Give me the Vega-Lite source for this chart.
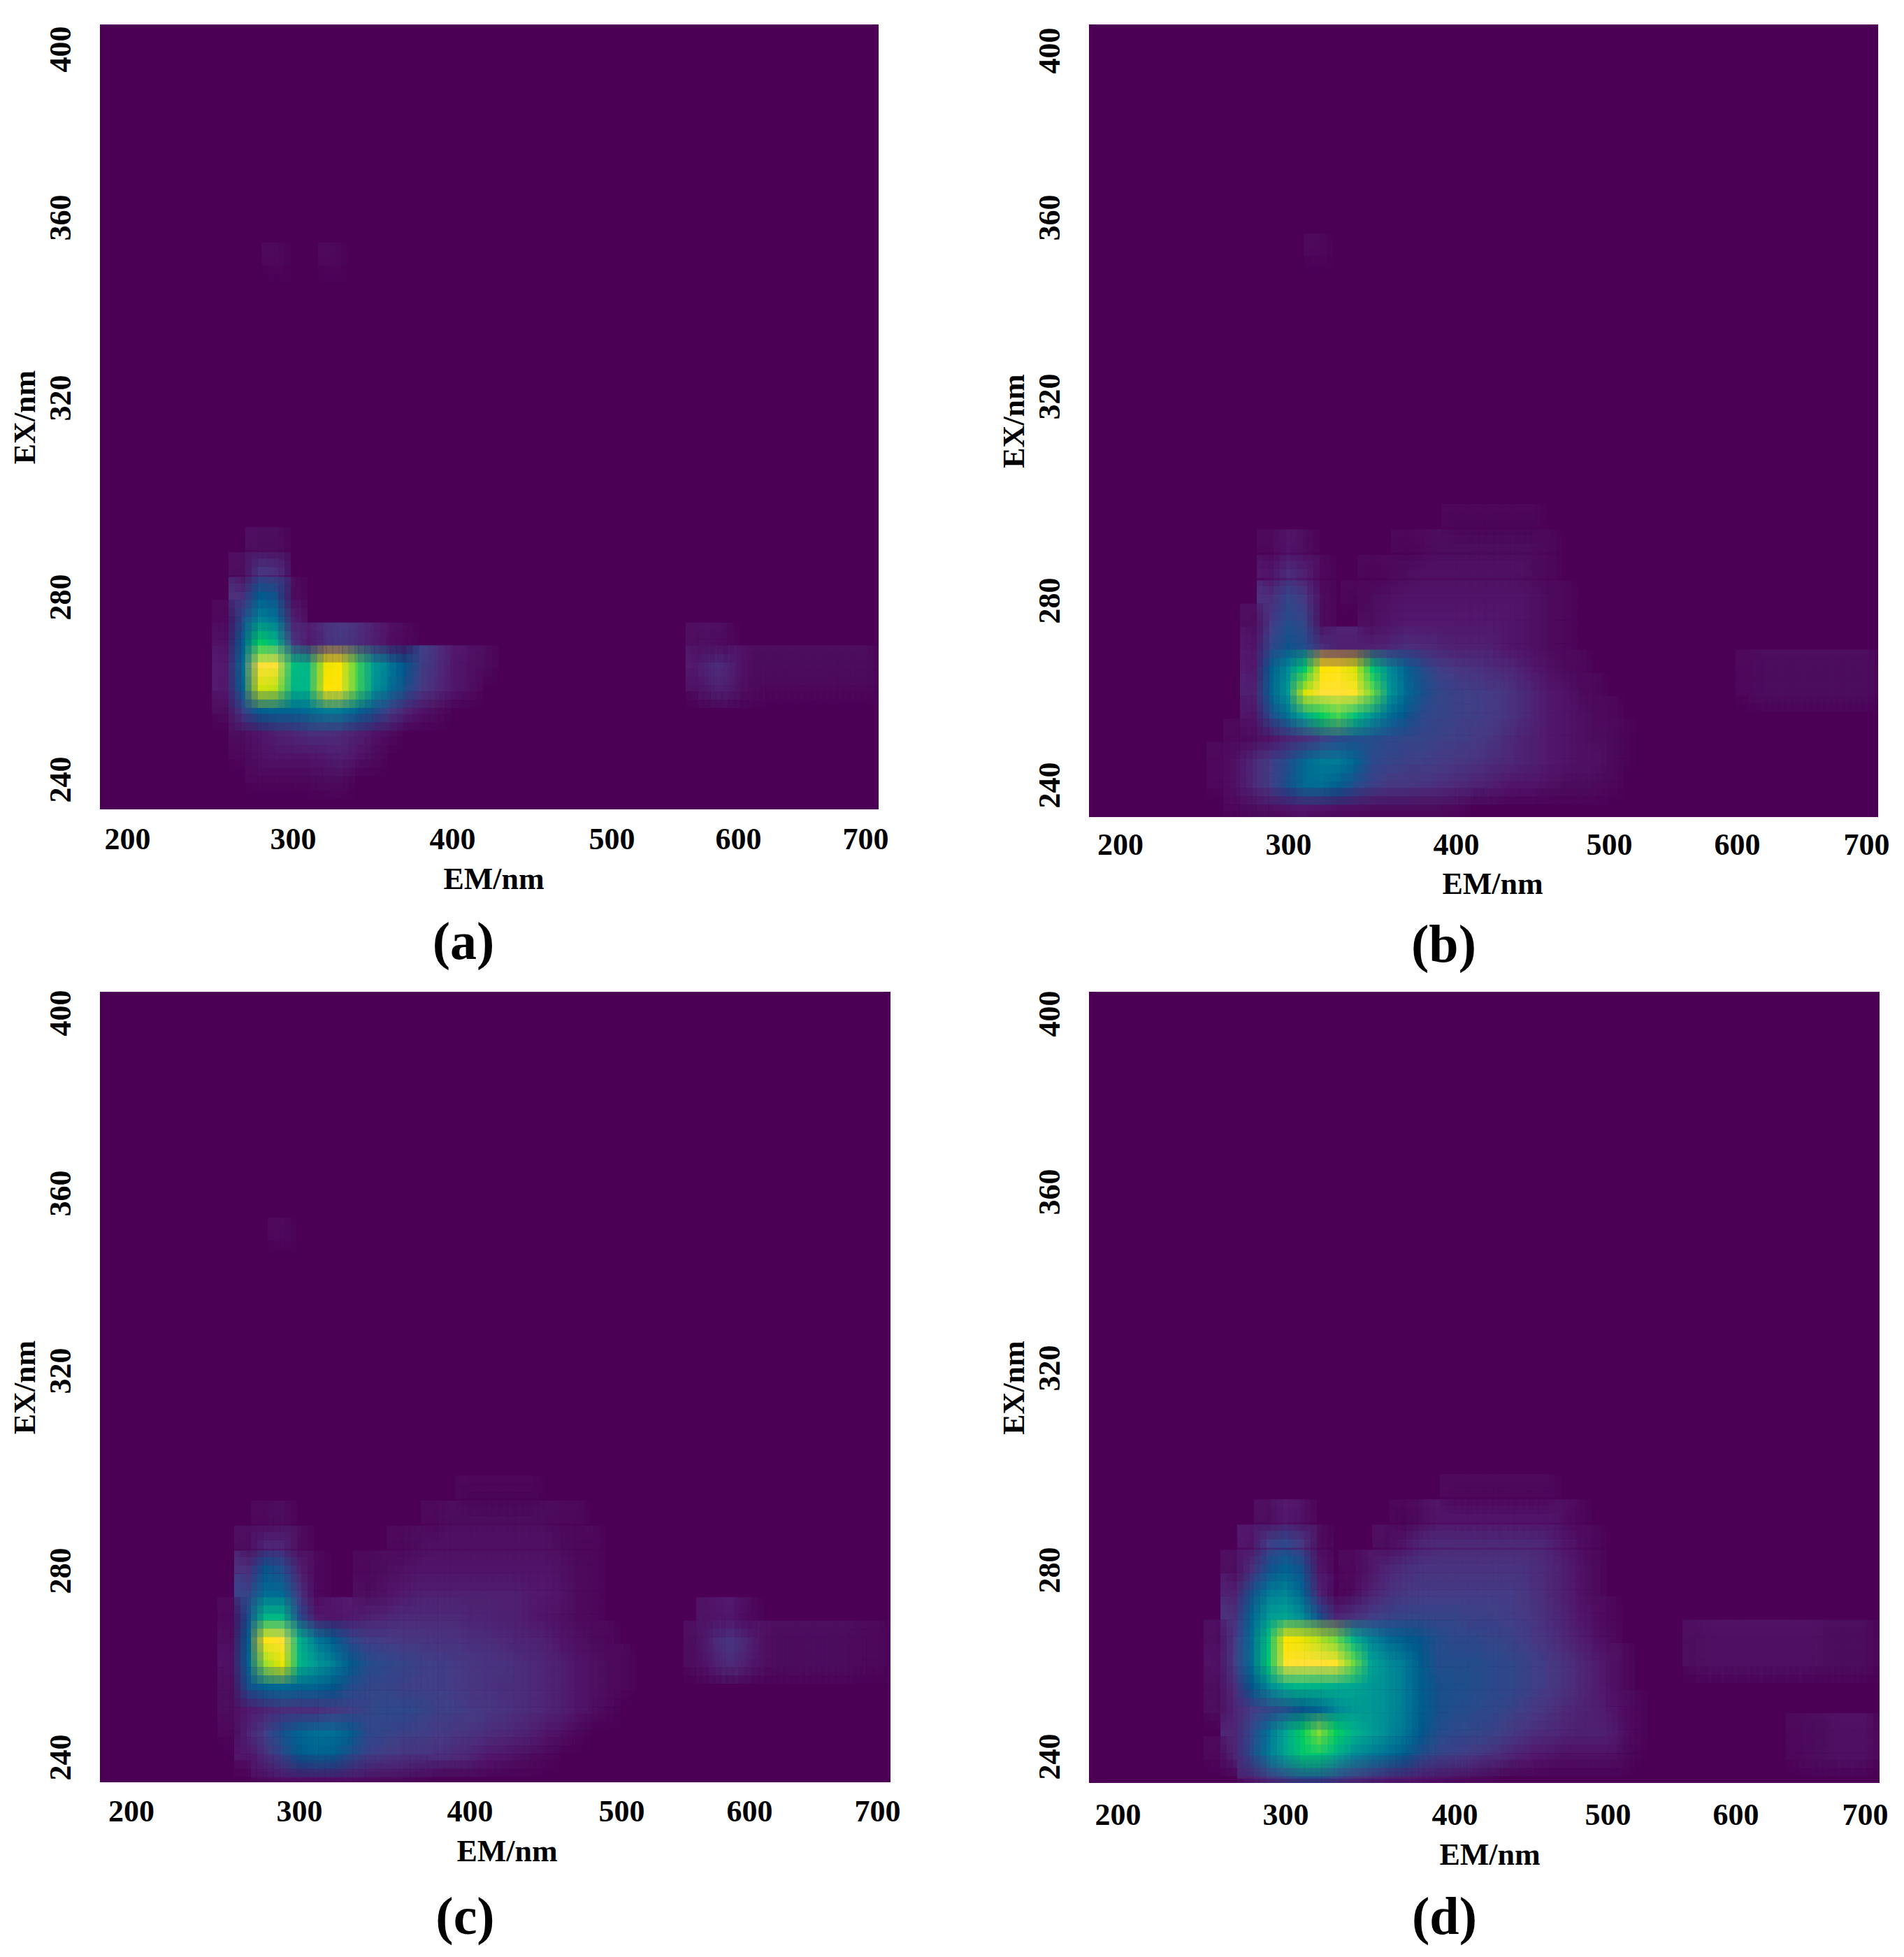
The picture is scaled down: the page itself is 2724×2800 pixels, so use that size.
{"$schema":"https://vega.github.io/schema/vega-lite/v6.json","background":"white","bounds":"flush","align":"each","columns":2,"spacing":{"row":250,"column":284},"padding":{"left":14,"top":35,"right":30,"bottom":30},"config":{"view":{"stroke":null},"axis":{"grid":false,"ticks":false,"domain":false,"labelFont":"Liberation Serif","labelFontWeight":"bold","labelFontSize":44,"labelColor":"black","titleFont":"Liberation Serif","titleFontWeight":"bold","titleFontSize":44,"titleColor":"black"},"title":{"font":"Liberation Serif","fontWeight":"bold","fontSize":76,"color":"black","orient":"bottom","anchor":"middle"}},
"datasets":{
"a":[{"em":290,"ex":350,"v":0.02},{"em":325,"ex":350,"v":0.02},
{"em":280,"ex":290,"v":0.03},{"em":290,"ex":290,"v":0.03},
{"em":270,"ex":285,"v":0.03},{"em":280,"ex":285,"v":0.12},{"em":290,"ex":285,"v":0.1},
{"em":270,"ex":280,"v":0.1},{"em":280,"ex":280,"v":0.27},{"em":290,"ex":280,"v":0.22},{"em":300,"ex":280,"v":0.03},
{"em":260,"ex":275,"v":0.02},{"em":270,"ex":275,"v":0.2},{"em":280,"ex":275,"v":0.42},{"em":290,"ex":275,"v":0.35},{"em":300,"ex":275,"v":0.07},
{"em":260,"ex":270,"v":0.04},{"em":270,"ex":270,"v":0.28},{"em":280,"ex":270,"v":0.72},{"em":290,"ex":270,"v":0.6},{"em":300,"ex":270,"v":0.12},{"em":310,"ex":270,"v":0.06},{"em":320,"ex":270,"v":0.1},{"em":330,"ex":270,"v":0.12},{"em":340,"ex":270,"v":0.1},{"em":350,"ex":270,"v":0.07},{"em":360,"ex":270,"v":0.04},{"em":370,"ex":270,"v":0.02},
{"em":260,"ex":265,"v":0.06},{"em":270,"ex":265,"v":0.33},{"em":280,"ex":265,"v":1},{"em":290,"ex":265,"v":1},{"em":300,"ex":265,"v":0.65},{"em":310,"ex":265,"v":0.6},{"em":320,"ex":265,"v":0.9},{"em":330,"ex":265,"v":0.92},{"em":340,"ex":265,"v":0.75},{"em":350,"ex":265,"v":0.52},{"em":360,"ex":265,"v":0.38},{"em":370,"ex":265,"v":0.25},{"em":380,"ex":265,"v":0.15},{"em":390,"ex":265,"v":0.1},{"em":400,"ex":265,"v":0.06},{"em":410,"ex":265,"v":0.04},{"em":420,"ex":265,"v":0.03},
{"em":260,"ex":260,"v":0.06},{"em":270,"ex":260,"v":0.3},{"em":280,"ex":260,"v":0.88},{"em":290,"ex":260,"v":0.85},{"em":300,"ex":260,"v":0.6},{"em":310,"ex":260,"v":0.62},{"em":320,"ex":260,"v":0.92},{"em":330,"ex":260,"v":0.95},{"em":340,"ex":260,"v":0.75},{"em":350,"ex":260,"v":0.5},{"em":360,"ex":260,"v":0.35},{"em":370,"ex":260,"v":0.22},{"em":380,"ex":260,"v":0.13},{"em":390,"ex":260,"v":0.09},{"em":400,"ex":260,"v":0.06},{"em":410,"ex":260,"v":0.04},
{"em":260,"ex":255,"v":0.03},{"em":270,"ex":255,"v":0.15},{"em":280,"ex":255,"v":0.28},{"em":290,"ex":255,"v":0.3},{"em":300,"ex":255,"v":0.3},{"em":310,"ex":255,"v":0.32},{"em":320,"ex":255,"v":0.38},{"em":330,"ex":255,"v":0.38},{"em":340,"ex":255,"v":0.3},{"em":350,"ex":255,"v":0.22},{"em":360,"ex":255,"v":0.14},{"em":370,"ex":255,"v":0.08},{"em":380,"ex":255,"v":0.05},{"em":390,"ex":255,"v":0.03},
{"em":270,"ex":250,"v":0.03},{"em":280,"ex":250,"v":0.05},{"em":290,"ex":250,"v":0.07},{"em":300,"ex":250,"v":0.08},{"em":310,"ex":250,"v":0.1},{"em":320,"ex":250,"v":0.1},{"em":330,"ex":250,"v":0.09},{"em":340,"ex":250,"v":0.07},{"em":350,"ex":250,"v":0.05},{"em":360,"ex":250,"v":0.03},
{"em":270,"ex":245,"v":0.02},{"em":280,"ex":245,"v":0.04},{"em":290,"ex":245,"v":0.05},{"em":300,"ex":245,"v":0.05},{"em":310,"ex":245,"v":0.05},{"em":320,"ex":245,"v":0.06},{"em":330,"ex":245,"v":0.07},{"em":340,"ex":245,"v":0.05},{"em":350,"ex":245,"v":0.03},
{"em":280,"ex":240,"v":0.02},{"em":290,"ex":240,"v":0.02},{"em":300,"ex":240,"v":0.02},{"em":310,"ex":240,"v":0.02},{"em":320,"ex":240,"v":0.03},{"em":330,"ex":240,"v":0.03},
{"em":570,"ex":270,"v":0.03},{"em":580,"ex":270,"v":0.04},{"em":590,"ex":270,"v":0.02},
{"em":570,"ex":265,"v":0.06},{"em":580,"ex":265,"v":0.1},{"em":590,"ex":265,"v":0.09},{"em":600,"ex":265,"v":0.05},{"em":610,"ex":265,"v":0.03},{"em":620,"ex":265,"v":0.03},{"em":630,"ex":265,"v":0.03},{"em":640,"ex":265,"v":0.03},{"em":650,"ex":265,"v":0.03},{"em":660,"ex":265,"v":0.03},{"em":670,"ex":265,"v":0.03},{"em":680,"ex":265,"v":0.03},{"em":690,"ex":265,"v":0.03},{"em":700,"ex":265,"v":0.03},
{"em":570,"ex":260,"v":0.04},{"em":580,"ex":260,"v":0.07},{"em":590,"ex":260,"v":0.07},{"em":600,"ex":260,"v":0.04},{"em":610,"ex":260,"v":0.03},{"em":620,"ex":260,"v":0.02},{"em":630,"ex":260,"v":0.02},{"em":640,"ex":260,"v":0.02},{"em":650,"ex":260,"v":0.02},{"em":660,"ex":260,"v":0.02},{"em":670,"ex":260,"v":0.02},{"em":680,"ex":260,"v":0.02},{"em":690,"ex":260,"v":0.02},{"em":700,"ex":260,"v":0.02}],
"b":[{"em":318,"ex":352,"v":0.02},
{"em":400,"ex":295,"v":0.015},{"em":410,"ex":295,"v":0.015},{"em":420,"ex":295,"v":0.015},{"em":430,"ex":295,"v":0.015},{"em":440,"ex":295,"v":0.015},{"em":450,"ex":295,"v":0.015},
{"em":290,"ex":290,"v":0.02},{"em":300,"ex":290,"v":0.05},{"em":310,"ex":290,"v":0.03},{"em":370,"ex":290,"v":0.015},{"em":380,"ex":290,"v":0.02},{"em":390,"ex":290,"v":0.03},{"em":400,"ex":290,"v":0.03},{"em":410,"ex":290,"v":0.03},{"em":420,"ex":290,"v":0.03},{"em":430,"ex":290,"v":0.03},{"em":440,"ex":290,"v":0.03},{"em":450,"ex":290,"v":0.03},{"em":460,"ex":290,"v":0.02},
{"em":290,"ex":285,"v":0.05},{"em":300,"ex":285,"v":0.1},{"em":310,"ex":285,"v":0.07},{"em":320,"ex":285,"v":0.02},{"em":350,"ex":285,"v":0.015},{"em":360,"ex":285,"v":0.02},{"em":370,"ex":285,"v":0.03},{"em":380,"ex":285,"v":0.04},{"em":390,"ex":285,"v":0.04},{"em":400,"ex":285,"v":0.04},{"em":410,"ex":285,"v":0.04},{"em":420,"ex":285,"v":0.04},{"em":430,"ex":285,"v":0.04},{"em":440,"ex":285,"v":0.04},{"em":450,"ex":285,"v":0.03},{"em":460,"ex":285,"v":0.02},
{"em":290,"ex":280,"v":0.1},{"em":300,"ex":280,"v":0.17},{"em":310,"ex":280,"v":0.12},{"em":320,"ex":280,"v":0.03},{"em":340,"ex":280,"v":0.015},{"em":350,"ex":280,"v":0.03},{"em":360,"ex":280,"v":0.04},{"em":370,"ex":280,"v":0.05},{"em":380,"ex":280,"v":0.05},{"em":390,"ex":280,"v":0.05},{"em":400,"ex":280,"v":0.05},{"em":410,"ex":280,"v":0.05},{"em":420,"ex":280,"v":0.05},{"em":430,"ex":280,"v":0.05},{"em":440,"ex":280,"v":0.05},{"em":450,"ex":280,"v":0.04},{"em":460,"ex":280,"v":0.03},{"em":470,"ex":280,"v":0.02},
{"em":280,"ex":275,"v":0.03},{"em":290,"ex":275,"v":0.13},{"em":300,"ex":275,"v":0.2},{"em":310,"ex":275,"v":0.16},{"em":320,"ex":275,"v":0.03},{"em":350,"ex":275,"v":0.03},{"em":360,"ex":275,"v":0.05},{"em":370,"ex":275,"v":0.06},{"em":380,"ex":275,"v":0.06},{"em":390,"ex":275,"v":0.06},{"em":400,"ex":275,"v":0.06},{"em":410,"ex":275,"v":0.06},{"em":420,"ex":275,"v":0.06},{"em":430,"ex":275,"v":0.06},{"em":440,"ex":275,"v":0.05},{"em":450,"ex":275,"v":0.04},{"em":460,"ex":275,"v":0.03},{"em":470,"ex":275,"v":0.02},
{"em":280,"ex":270,"v":0.05},{"em":290,"ex":270,"v":0.17},{"em":300,"ex":270,"v":0.23},{"em":310,"ex":270,"v":0.2},{"em":320,"ex":270,"v":0.1},{"em":330,"ex":270,"v":0.07},{"em":340,"ex":270,"v":0.07},{"em":350,"ex":270,"v":0.07},{"em":360,"ex":270,"v":0.08},{"em":370,"ex":270,"v":0.1},{"em":380,"ex":270,"v":0.09},{"em":390,"ex":270,"v":0.08},{"em":400,"ex":270,"v":0.07},{"em":410,"ex":270,"v":0.07},{"em":420,"ex":270,"v":0.07},{"em":430,"ex":270,"v":0.06},{"em":440,"ex":270,"v":0.05},{"em":450,"ex":270,"v":0.04},{"em":460,"ex":270,"v":0.03},{"em":470,"ex":270,"v":0.02},
{"em":280,"ex":265,"v":0.06},{"em":290,"ex":265,"v":0.28},{"em":300,"ex":265,"v":0.45},{"em":310,"ex":265,"v":0.7},{"em":320,"ex":265,"v":0.92},{"em":330,"ex":265,"v":0.95},{"em":340,"ex":265,"v":0.88},{"em":350,"ex":265,"v":0.68},{"em":360,"ex":265,"v":0.45},{"em":370,"ex":265,"v":0.3},{"em":380,"ex":265,"v":0.2},{"em":390,"ex":265,"v":0.14},{"em":400,"ex":265,"v":0.12},{"em":410,"ex":265,"v":0.11},{"em":420,"ex":265,"v":0.1},{"em":430,"ex":265,"v":0.09},{"em":440,"ex":265,"v":0.08},{"em":450,"ex":265,"v":0.06},{"em":460,"ex":265,"v":0.04},{"em":470,"ex":265,"v":0.03},{"em":480,"ex":265,"v":0.02},
{"em":280,"ex":260,"v":0.07},{"em":290,"ex":260,"v":0.3},{"em":300,"ex":260,"v":0.5},{"em":310,"ex":260,"v":0.88},{"em":320,"ex":260,"v":1},{"em":330,"ex":260,"v":1},{"em":340,"ex":260,"v":0.98},{"em":350,"ex":260,"v":0.78},{"em":360,"ex":260,"v":0.5},{"em":370,"ex":260,"v":0.32},{"em":380,"ex":260,"v":0.22},{"em":390,"ex":260,"v":0.17},{"em":400,"ex":260,"v":0.15},{"em":410,"ex":260,"v":0.14},{"em":420,"ex":260,"v":0.13},{"em":430,"ex":260,"v":0.12},{"em":440,"ex":260,"v":0.1},{"em":450,"ex":260,"v":0.08},{"em":460,"ex":260,"v":0.06},{"em":470,"ex":260,"v":0.05},{"em":480,"ex":260,"v":0.03},{"em":490,"ex":260,"v":0.02},
{"em":280,"ex":255,"v":0.05},{"em":290,"ex":255,"v":0.2},{"em":300,"ex":255,"v":0.35},{"em":310,"ex":255,"v":0.55},{"em":320,"ex":255,"v":0.72},{"em":330,"ex":255,"v":0.75},{"em":340,"ex":255,"v":0.65},{"em":350,"ex":255,"v":0.48},{"em":360,"ex":255,"v":0.33},{"em":370,"ex":255,"v":0.24},{"em":380,"ex":255,"v":0.18},{"em":390,"ex":255,"v":0.16},{"em":400,"ex":255,"v":0.15},{"em":410,"ex":255,"v":0.14},{"em":420,"ex":255,"v":0.13},{"em":430,"ex":255,"v":0.12},{"em":440,"ex":255,"v":0.1},{"em":450,"ex":255,"v":0.08},{"em":460,"ex":255,"v":0.06},{"em":470,"ex":255,"v":0.05},{"em":480,"ex":255,"v":0.04},{"em":490,"ex":255,"v":0.03},{"em":500,"ex":255,"v":0.02},
{"em":270,"ex":250,"v":0.02},{"em":280,"ex":250,"v":0.03},{"em":290,"ex":250,"v":0.05},{"em":300,"ex":250,"v":0.08},{"em":310,"ex":250,"v":0.1},{"em":320,"ex":250,"v":0.14},{"em":330,"ex":250,"v":0.18},{"em":340,"ex":250,"v":0.2},{"em":350,"ex":250,"v":0.2},{"em":360,"ex":250,"v":0.18},{"em":370,"ex":250,"v":0.17},{"em":380,"ex":250,"v":0.16},{"em":390,"ex":250,"v":0.15},{"em":400,"ex":250,"v":0.14},{"em":410,"ex":250,"v":0.13},{"em":420,"ex":250,"v":0.12},{"em":430,"ex":250,"v":0.1},{"em":440,"ex":250,"v":0.08},{"em":450,"ex":250,"v":0.07},{"em":460,"ex":250,"v":0.06},{"em":470,"ex":250,"v":0.05},{"em":480,"ex":250,"v":0.04},{"em":490,"ex":250,"v":0.03},{"em":500,"ex":250,"v":0.03},{"em":510,"ex":250,"v":0.015},
{"em":260,"ex":245,"v":0.02},{"em":270,"ex":245,"v":0.05},{"em":280,"ex":245,"v":0.09},{"em":290,"ex":245,"v":0.14},{"em":300,"ex":245,"v":0.2},{"em":310,"ex":245,"v":0.32},{"em":320,"ex":245,"v":0.38},{"em":330,"ex":245,"v":0.38},{"em":340,"ex":245,"v":0.3},{"em":350,"ex":245,"v":0.18},{"em":360,"ex":245,"v":0.16},{"em":370,"ex":245,"v":0.15},{"em":380,"ex":245,"v":0.14},{"em":390,"ex":245,"v":0.13},{"em":400,"ex":245,"v":0.12},{"em":410,"ex":245,"v":0.11},{"em":420,"ex":245,"v":0.1},{"em":430,"ex":245,"v":0.09},{"em":440,"ex":245,"v":0.08},{"em":450,"ex":245,"v":0.07},{"em":460,"ex":245,"v":0.06},{"em":470,"ex":245,"v":0.05},{"em":480,"ex":245,"v":0.04},{"em":490,"ex":245,"v":0.04},{"em":500,"ex":245,"v":0.03},{"em":510,"ex":245,"v":0.015},
{"em":260,"ex":240,"v":0.02},{"em":270,"ex":240,"v":0.05},{"em":280,"ex":240,"v":0.09},{"em":290,"ex":240,"v":0.14},{"em":300,"ex":240,"v":0.22},{"em":310,"ex":240,"v":0.32},{"em":320,"ex":240,"v":0.33},{"em":330,"ex":240,"v":0.28},{"em":340,"ex":240,"v":0.2},{"em":350,"ex":240,"v":0.15},{"em":360,"ex":240,"v":0.12},{"em":370,"ex":240,"v":0.12},{"em":380,"ex":240,"v":0.11},{"em":390,"ex":240,"v":0.1},{"em":400,"ex":240,"v":0.09},{"em":410,"ex":240,"v":0.08},{"em":420,"ex":240,"v":0.07},{"em":430,"ex":240,"v":0.06},{"em":440,"ex":240,"v":0.05},{"em":450,"ex":240,"v":0.05},{"em":460,"ex":240,"v":0.04},{"em":470,"ex":240,"v":0.03},{"em":480,"ex":240,"v":0.03},{"em":490,"ex":240,"v":0.03},{"em":500,"ex":240,"v":0.02},
{"em":270,"ex":235,"v":0.02},{"em":280,"ex":235,"v":0.03},{"em":290,"ex":235,"v":0.04},{"em":300,"ex":235,"v":0.05},{"em":310,"ex":235,"v":0.06},{"em":320,"ex":235,"v":0.05},{"em":330,"ex":235,"v":0.04},{"em":340,"ex":235,"v":0.04},{"em":350,"ex":235,"v":0.03},{"em":360,"ex":235,"v":0.03},{"em":370,"ex":235,"v":0.03},{"em":380,"ex":235,"v":0.03},{"em":390,"ex":235,"v":0.03},{"em":400,"ex":235,"v":0.02},
{"em":610,"ex":265,"v":0.02},{"em":620,"ex":265,"v":0.03},{"em":630,"ex":265,"v":0.03},{"em":640,"ex":265,"v":0.03},{"em":650,"ex":265,"v":0.03},{"em":660,"ex":265,"v":0.03},{"em":670,"ex":265,"v":0.03},{"em":680,"ex":265,"v":0.03},{"em":690,"ex":265,"v":0.03},{"em":700,"ex":265,"v":0.03},{"em":610,"ex":260,"v":0.02},{"em":620,"ex":260,"v":0.03},{"em":630,"ex":260,"v":0.03},{"em":640,"ex":260,"v":0.03},{"em":650,"ex":260,"v":0.03},{"em":660,"ex":260,"v":0.03},{"em":670,"ex":260,"v":0.03},{"em":680,"ex":260,"v":0.03},{"em":690,"ex":260,"v":0.03},{"em":700,"ex":260,"v":0.03}],
"c":[{"em":290,"ex":350,"v":0.02},
{"em":400,"ex":295,"v":0.015},{"em":410,"ex":295,"v":0.015},{"em":420,"ex":295,"v":0.015},{"em":430,"ex":295,"v":0.015},{"em":440,"ex":295,"v":0.015},
{"em":280,"ex":290,"v":0.02},{"em":290,"ex":290,"v":0.03},{"em":380,"ex":290,"v":0.02},{"em":390,"ex":290,"v":0.03},{"em":400,"ex":290,"v":0.03},{"em":410,"ex":290,"v":0.03},{"em":420,"ex":290,"v":0.03},{"em":430,"ex":290,"v":0.03},{"em":440,"ex":290,"v":0.03},{"em":450,"ex":290,"v":0.03},{"em":460,"ex":290,"v":0.02},{"em":470,"ex":290,"v":0.02},
{"em":270,"ex":285,"v":0.03},{"em":280,"ex":285,"v":0.08},{"em":290,"ex":285,"v":0.08},{"em":300,"ex":285,"v":0.03},{"em":360,"ex":285,"v":0.02},{"em":370,"ex":285,"v":0.03},{"em":380,"ex":285,"v":0.04},{"em":390,"ex":285,"v":0.04},{"em":400,"ex":285,"v":0.04},{"em":410,"ex":285,"v":0.04},{"em":420,"ex":285,"v":0.04},{"em":430,"ex":285,"v":0.04},{"em":440,"ex":285,"v":0.04},{"em":450,"ex":285,"v":0.04},{"em":460,"ex":285,"v":0.03},{"em":470,"ex":285,"v":0.02},{"em":480,"ex":285,"v":0.02},
{"em":270,"ex":280,"v":0.1},{"em":280,"ex":280,"v":0.24},{"em":290,"ex":280,"v":0.2},{"em":300,"ex":280,"v":0.07},{"em":310,"ex":280,"v":0.02},{"em":340,"ex":280,"v":0.02},{"em":350,"ex":280,"v":0.03},{"em":360,"ex":280,"v":0.04},{"em":370,"ex":280,"v":0.05},{"em":380,"ex":280,"v":0.05},{"em":390,"ex":280,"v":0.05},{"em":400,"ex":280,"v":0.05},{"em":410,"ex":280,"v":0.05},{"em":420,"ex":280,"v":0.05},{"em":430,"ex":280,"v":0.05},{"em":440,"ex":280,"v":0.05},{"em":450,"ex":280,"v":0.05},{"em":460,"ex":280,"v":0.04},{"em":470,"ex":280,"v":0.03},{"em":480,"ex":280,"v":0.02},
{"em":270,"ex":275,"v":0.16},{"em":280,"ex":275,"v":0.34},{"em":290,"ex":275,"v":0.32},{"em":300,"ex":275,"v":0.12},{"em":310,"ex":275,"v":0.02},{"em":340,"ex":275,"v":0.03},{"em":350,"ex":275,"v":0.04},{"em":360,"ex":275,"v":0.06},{"em":370,"ex":275,"v":0.07},{"em":380,"ex":275,"v":0.07},{"em":390,"ex":275,"v":0.07},{"em":400,"ex":275,"v":0.07},{"em":410,"ex":275,"v":0.07},{"em":420,"ex":275,"v":0.07},{"em":430,"ex":275,"v":0.07},{"em":440,"ex":275,"v":0.06},{"em":450,"ex":275,"v":0.06},{"em":460,"ex":275,"v":0.05},{"em":470,"ex":275,"v":0.03},{"em":480,"ex":275,"v":0.02},
{"em":260,"ex":270,"v":0.02},{"em":270,"ex":270,"v":0.22},{"em":280,"ex":270,"v":0.62},{"em":290,"ex":270,"v":0.62},{"em":300,"ex":270,"v":0.2},{"em":310,"ex":270,"v":0.06},{"em":320,"ex":270,"v":0.05},{"em":330,"ex":270,"v":0.06},{"em":340,"ex":270,"v":0.07},{"em":350,"ex":270,"v":0.08},{"em":360,"ex":270,"v":0.09},{"em":370,"ex":270,"v":0.09},{"em":380,"ex":270,"v":0.09},{"em":390,"ex":270,"v":0.09},{"em":400,"ex":270,"v":0.08},{"em":410,"ex":270,"v":0.08},{"em":420,"ex":270,"v":0.07},{"em":430,"ex":270,"v":0.07},{"em":440,"ex":270,"v":0.06},{"em":450,"ex":270,"v":0.05},{"em":460,"ex":270,"v":0.04},{"em":470,"ex":270,"v":0.03},{"em":480,"ex":270,"v":0.02},
{"em":260,"ex":265,"v":0.03},{"em":270,"ex":265,"v":0.28},{"em":280,"ex":265,"v":0.95},{"em":290,"ex":265,"v":1},{"em":300,"ex":265,"v":0.6},{"em":310,"ex":265,"v":0.38},{"em":320,"ex":265,"v":0.27},{"em":330,"ex":265,"v":0.18},{"em":340,"ex":265,"v":0.14},{"em":350,"ex":265,"v":0.13},{"em":360,"ex":265,"v":0.12},{"em":370,"ex":265,"v":0.12},{"em":380,"ex":265,"v":0.11},{"em":390,"ex":265,"v":0.11},{"em":400,"ex":265,"v":0.1},{"em":410,"ex":265,"v":0.1},{"em":420,"ex":265,"v":0.09},{"em":430,"ex":265,"v":0.08},{"em":440,"ex":265,"v":0.08},{"em":450,"ex":265,"v":0.07},{"em":460,"ex":265,"v":0.05},{"em":470,"ex":265,"v":0.04},{"em":480,"ex":265,"v":0.03},{"em":490,"ex":265,"v":0.02},
{"em":260,"ex":260,"v":0.04},{"em":270,"ex":260,"v":0.3},{"em":280,"ex":260,"v":0.82},{"em":290,"ex":260,"v":0.9},{"em":300,"ex":260,"v":0.62},{"em":310,"ex":260,"v":0.5},{"em":320,"ex":260,"v":0.4},{"em":330,"ex":260,"v":0.27},{"em":340,"ex":260,"v":0.2},{"em":350,"ex":260,"v":0.18},{"em":360,"ex":260,"v":0.16},{"em":370,"ex":260,"v":0.15},{"em":380,"ex":260,"v":0.14},{"em":390,"ex":260,"v":0.13},{"em":400,"ex":260,"v":0.12},{"em":410,"ex":260,"v":0.11},{"em":420,"ex":260,"v":0.11},{"em":430,"ex":260,"v":0.1},{"em":440,"ex":260,"v":0.09},{"em":450,"ex":260,"v":0.08},{"em":460,"ex":260,"v":0.07},{"em":470,"ex":260,"v":0.05},{"em":480,"ex":260,"v":0.04},{"em":490,"ex":260,"v":0.03},{"em":500,"ex":260,"v":0.02},
{"em":260,"ex":255,"v":0.03},{"em":270,"ex":255,"v":0.22},{"em":280,"ex":255,"v":0.3},{"em":290,"ex":255,"v":0.32},{"em":300,"ex":255,"v":0.3},{"em":310,"ex":255,"v":0.3},{"em":320,"ex":255,"v":0.25},{"em":330,"ex":255,"v":0.2},{"em":340,"ex":255,"v":0.17},{"em":350,"ex":255,"v":0.16},{"em":360,"ex":255,"v":0.15},{"em":370,"ex":255,"v":0.14},{"em":380,"ex":255,"v":0.14},{"em":390,"ex":255,"v":0.13},{"em":400,"ex":255,"v":0.12},{"em":410,"ex":255,"v":0.11},{"em":420,"ex":255,"v":0.1},{"em":430,"ex":255,"v":0.1},{"em":440,"ex":255,"v":0.09},{"em":450,"ex":255,"v":0.08},{"em":460,"ex":255,"v":0.07},{"em":470,"ex":255,"v":0.05},{"em":480,"ex":255,"v":0.04},{"em":490,"ex":255,"v":0.03},{"em":500,"ex":255,"v":0.02},
{"em":260,"ex":250,"v":0.03},{"em":270,"ex":250,"v":0.06},{"em":280,"ex":250,"v":0.08},{"em":290,"ex":250,"v":0.1},{"em":300,"ex":250,"v":0.1},{"em":310,"ex":250,"v":0.1},{"em":320,"ex":250,"v":0.12},{"em":330,"ex":250,"v":0.14},{"em":340,"ex":250,"v":0.16},{"em":350,"ex":250,"v":0.18},{"em":360,"ex":250,"v":0.18},{"em":370,"ex":250,"v":0.17},{"em":380,"ex":250,"v":0.15},{"em":390,"ex":250,"v":0.14},{"em":400,"ex":250,"v":0.13},{"em":410,"ex":250,"v":0.12},{"em":420,"ex":250,"v":0.11},{"em":430,"ex":250,"v":0.1},{"em":440,"ex":250,"v":0.09},{"em":450,"ex":250,"v":0.08},{"em":460,"ex":250,"v":0.07},{"em":470,"ex":250,"v":0.05},{"em":480,"ex":250,"v":0.04},{"em":490,"ex":250,"v":0.02},
{"em":260,"ex":245,"v":0.02},{"em":270,"ex":245,"v":0.08},{"em":280,"ex":245,"v":0.14},{"em":290,"ex":245,"v":0.22},{"em":300,"ex":245,"v":0.3},{"em":310,"ex":245,"v":0.34},{"em":320,"ex":245,"v":0.34},{"em":330,"ex":245,"v":0.28},{"em":340,"ex":245,"v":0.18},{"em":350,"ex":245,"v":0.16},{"em":360,"ex":245,"v":0.15},{"em":370,"ex":245,"v":0.14},{"em":380,"ex":245,"v":0.13},{"em":390,"ex":245,"v":0.12},{"em":400,"ex":245,"v":0.11},{"em":410,"ex":245,"v":0.1},{"em":420,"ex":245,"v":0.09},{"em":430,"ex":245,"v":0.08},{"em":440,"ex":245,"v":0.07},{"em":450,"ex":245,"v":0.05},{"em":460,"ex":245,"v":0.04},{"em":470,"ex":245,"v":0.02},
{"em":270,"ex":240,"v":0.05},{"em":280,"ex":240,"v":0.1},{"em":290,"ex":240,"v":0.17},{"em":300,"ex":240,"v":0.26},{"em":310,"ex":240,"v":0.3},{"em":320,"ex":240,"v":0.28},{"em":330,"ex":240,"v":0.2},{"em":340,"ex":240,"v":0.15},{"em":350,"ex":240,"v":0.13},{"em":360,"ex":240,"v":0.12},{"em":370,"ex":240,"v":0.11},{"em":380,"ex":240,"v":0.1},{"em":390,"ex":240,"v":0.09},{"em":400,"ex":240,"v":0.08},{"em":410,"ex":240,"v":0.06},{"em":420,"ex":240,"v":0.05},{"em":430,"ex":240,"v":0.04},{"em":440,"ex":240,"v":0.03},{"em":450,"ex":240,"v":0.02},
{"em":280,"ex":235,"v":0.03},{"em":290,"ex":235,"v":0.05},{"em":300,"ex":235,"v":0.05},{"em":310,"ex":235,"v":0.05},{"em":320,"ex":235,"v":0.05},{"em":330,"ex":235,"v":0.05},{"em":340,"ex":235,"v":0.04},{"em":350,"ex":235,"v":0.03},{"em":360,"ex":235,"v":0.03},{"em":370,"ex":235,"v":0.02},
{"em":570,"ex":270,"v":0.04},{"em":580,"ex":270,"v":0.06},{"em":590,"ex":270,"v":0.05},{"em":600,"ex":270,"v":0.02},
{"em":560,"ex":265,"v":0.03},{"em":570,"ex":265,"v":0.08},{"em":580,"ex":265,"v":0.11},{"em":590,"ex":265,"v":0.11},{"em":600,"ex":265,"v":0.07},{"em":610,"ex":265,"v":0.04},{"em":620,"ex":265,"v":0.03},{"em":630,"ex":265,"v":0.03},{"em":640,"ex":265,"v":0.03},{"em":650,"ex":265,"v":0.03},{"em":660,"ex":265,"v":0.03},{"em":670,"ex":265,"v":0.03},{"em":680,"ex":265,"v":0.03},{"em":690,"ex":265,"v":0.02},{"em":700,"ex":265,"v":0.02},
{"em":560,"ex":260,"v":0.03},{"em":570,"ex":260,"v":0.06},{"em":580,"ex":260,"v":0.09},{"em":590,"ex":260,"v":0.09},{"em":600,"ex":260,"v":0.06},{"em":610,"ex":260,"v":0.04},{"em":620,"ex":260,"v":0.03},{"em":630,"ex":260,"v":0.03},{"em":640,"ex":260,"v":0.03},{"em":650,"ex":260,"v":0.03},{"em":660,"ex":260,"v":0.03},{"em":670,"ex":260,"v":0.03},{"em":680,"ex":260,"v":0.03},{"em":690,"ex":260,"v":0.02},{"em":700,"ex":260,"v":0.02}],
"d":[{"em":400,"ex":295,"v":0.02},{"em":410,"ex":295,"v":0.02},{"em":420,"ex":295,"v":0.02},{"em":430,"ex":295,"v":0.02},{"em":440,"ex":295,"v":0.02},{"em":450,"ex":295,"v":0.02},{"em":460,"ex":295,"v":0.02},
{"em":290,"ex":290,"v":0.03},{"em":300,"ex":290,"v":0.06},{"em":310,"ex":290,"v":0.04},{"em":370,"ex":290,"v":0.015},{"em":380,"ex":290,"v":0.03},{"em":390,"ex":290,"v":0.05},{"em":400,"ex":290,"v":0.05},{"em":410,"ex":290,"v":0.05},{"em":420,"ex":290,"v":0.05},{"em":430,"ex":290,"v":0.05},{"em":440,"ex":290,"v":0.05},{"em":450,"ex":290,"v":0.05},{"em":460,"ex":290,"v":0.05},{"em":470,"ex":290,"v":0.04},{"em":480,"ex":290,"v":0.02},
{"em":280,"ex":285,"v":0.05},{"em":290,"ex":285,"v":0.14},{"em":300,"ex":285,"v":0.18},{"em":310,"ex":285,"v":0.12},{"em":320,"ex":285,"v":0.03},{"em":360,"ex":285,"v":0.03},{"em":370,"ex":285,"v":0.05},{"em":380,"ex":285,"v":0.08},{"em":390,"ex":285,"v":0.09},{"em":400,"ex":285,"v":0.09},{"em":410,"ex":285,"v":0.09},{"em":420,"ex":285,"v":0.09},{"em":430,"ex":285,"v":0.09},{"em":440,"ex":285,"v":0.09},{"em":450,"ex":285,"v":0.09},{"em":460,"ex":285,"v":0.08},{"em":470,"ex":285,"v":0.06},{"em":480,"ex":285,"v":0.04},{"em":490,"ex":285,"v":0.02},
{"em":270,"ex":280,"v":0.03},{"em":280,"ex":280,"v":0.1},{"em":290,"ex":280,"v":0.22},{"em":300,"ex":280,"v":0.3},{"em":310,"ex":280,"v":0.22},{"em":320,"ex":280,"v":0.05},{"em":340,"ex":280,"v":0.02},{"em":350,"ex":280,"v":0.05},{"em":360,"ex":280,"v":0.08},{"em":370,"ex":280,"v":0.1},{"em":380,"ex":280,"v":0.11},{"em":390,"ex":280,"v":0.11},{"em":400,"ex":280,"v":0.11},{"em":410,"ex":280,"v":0.11},{"em":420,"ex":280,"v":0.11},{"em":430,"ex":280,"v":0.11},{"em":440,"ex":280,"v":0.11},{"em":450,"ex":280,"v":0.1},{"em":460,"ex":280,"v":0.09},{"em":470,"ex":280,"v":0.07},{"em":480,"ex":280,"v":0.05},{"em":490,"ex":280,"v":0.03},
{"em":270,"ex":275,"v":0.07},{"em":280,"ex":275,"v":0.22},{"em":290,"ex":275,"v":0.38},{"em":300,"ex":275,"v":0.42},{"em":310,"ex":275,"v":0.3},{"em":320,"ex":275,"v":0.08},{"em":330,"ex":275,"v":0.01},{"em":340,"ex":275,"v":0.03},{"em":350,"ex":275,"v":0.07},{"em":360,"ex":275,"v":0.1},{"em":370,"ex":275,"v":0.12},{"em":380,"ex":275,"v":0.13},{"em":390,"ex":275,"v":0.13},{"em":400,"ex":275,"v":0.13},{"em":410,"ex":275,"v":0.13},{"em":420,"ex":275,"v":0.13},{"em":430,"ex":275,"v":0.13},{"em":440,"ex":275,"v":0.13},{"em":450,"ex":275,"v":0.11},{"em":460,"ex":275,"v":0.09},{"em":470,"ex":275,"v":0.07},{"em":480,"ex":275,"v":0.05},{"em":490,"ex":275,"v":0.03},
{"em":270,"ex":270,"v":0.1},{"em":280,"ex":270,"v":0.3},{"em":290,"ex":270,"v":0.5},{"em":300,"ex":270,"v":0.55},{"em":310,"ex":270,"v":0.45},{"em":320,"ex":270,"v":0.22},{"em":330,"ex":270,"v":0.08},{"em":340,"ex":270,"v":0.1},{"em":350,"ex":270,"v":0.13},{"em":360,"ex":270,"v":0.15},{"em":370,"ex":270,"v":0.16},{"em":380,"ex":270,"v":0.16},{"em":390,"ex":270,"v":0.16},{"em":400,"ex":270,"v":0.16},{"em":410,"ex":270,"v":0.15},{"em":420,"ex":270,"v":0.15},{"em":430,"ex":270,"v":0.14},{"em":440,"ex":270,"v":0.13},{"em":450,"ex":270,"v":0.12},{"em":460,"ex":270,"v":0.1},{"em":470,"ex":270,"v":0.08},{"em":480,"ex":270,"v":0.06},{"em":490,"ex":270,"v":0.04},{"em":500,"ex":270,"v":0.02},
{"em":260,"ex":265,"v":0.03},{"em":270,"ex":265,"v":0.13},{"em":280,"ex":265,"v":0.33},{"em":290,"ex":265,"v":0.65},{"em":300,"ex":265,"v":0.92},{"em":310,"ex":265,"v":0.9},{"em":320,"ex":265,"v":0.85},{"em":330,"ex":265,"v":0.78},{"em":340,"ex":265,"v":0.6},{"em":350,"ex":265,"v":0.42},{"em":360,"ex":265,"v":0.33},{"em":370,"ex":265,"v":0.28},{"em":380,"ex":265,"v":0.24},{"em":390,"ex":265,"v":0.2},{"em":400,"ex":265,"v":0.18},{"em":410,"ex":265,"v":0.18},{"em":420,"ex":265,"v":0.17},{"em":430,"ex":265,"v":0.16},{"em":440,"ex":265,"v":0.15},{"em":450,"ex":265,"v":0.13},{"em":460,"ex":265,"v":0.11},{"em":470,"ex":265,"v":0.09},{"em":480,"ex":265,"v":0.07},{"em":490,"ex":265,"v":0.05},{"em":500,"ex":265,"v":0.03},
{"em":260,"ex":260,"v":0.04},{"em":270,"ex":260,"v":0.14},{"em":280,"ex":260,"v":0.33},{"em":290,"ex":260,"v":0.68},{"em":300,"ex":260,"v":0.98},{"em":310,"ex":260,"v":1},{"em":320,"ex":260,"v":1},{"em":330,"ex":260,"v":0.98},{"em":340,"ex":260,"v":0.78},{"em":350,"ex":260,"v":0.55},{"em":360,"ex":260,"v":0.45},{"em":370,"ex":260,"v":0.38},{"em":380,"ex":260,"v":0.27},{"em":390,"ex":260,"v":0.2},{"em":400,"ex":260,"v":0.2},{"em":410,"ex":260,"v":0.2},{"em":420,"ex":260,"v":0.19},{"em":430,"ex":260,"v":0.18},{"em":440,"ex":260,"v":0.17},{"em":450,"ex":260,"v":0.15},{"em":460,"ex":260,"v":0.13},{"em":470,"ex":260,"v":0.11},{"em":480,"ex":260,"v":0.09},{"em":490,"ex":260,"v":0.07},{"em":500,"ex":260,"v":0.05},{"em":510,"ex":260,"v":0.03},
{"em":260,"ex":255,"v":0.03},{"em":270,"ex":255,"v":0.1},{"em":280,"ex":255,"v":0.25},{"em":290,"ex":255,"v":0.42},{"em":300,"ex":255,"v":0.58},{"em":310,"ex":255,"v":0.62},{"em":320,"ex":255,"v":0.6},{"em":330,"ex":255,"v":0.58},{"em":340,"ex":255,"v":0.55},{"em":350,"ex":255,"v":0.5},{"em":360,"ex":255,"v":0.46},{"em":370,"ex":255,"v":0.38},{"em":380,"ex":255,"v":0.28},{"em":390,"ex":255,"v":0.22},{"em":400,"ex":255,"v":0.21},{"em":410,"ex":255,"v":0.2},{"em":420,"ex":255,"v":0.19},{"em":430,"ex":255,"v":0.18},{"em":440,"ex":255,"v":0.17},{"em":450,"ex":255,"v":0.15},{"em":460,"ex":255,"v":0.13},{"em":470,"ex":255,"v":0.11},{"em":480,"ex":255,"v":0.09},{"em":490,"ex":255,"v":0.07},{"em":500,"ex":255,"v":0.05},{"em":510,"ex":255,"v":0.03},
{"em":260,"ex":250,"v":0.03},{"em":270,"ex":250,"v":0.08},{"em":280,"ex":250,"v":0.13},{"em":290,"ex":250,"v":0.17},{"em":300,"ex":250,"v":0.2},{"em":310,"ex":250,"v":0.24},{"em":320,"ex":250,"v":0.3},{"em":330,"ex":250,"v":0.42},{"em":340,"ex":250,"v":0.5},{"em":350,"ex":250,"v":0.5},{"em":360,"ex":250,"v":0.46},{"em":370,"ex":250,"v":0.38},{"em":380,"ex":250,"v":0.28},{"em":390,"ex":250,"v":0.22},{"em":400,"ex":250,"v":0.2},{"em":410,"ex":250,"v":0.19},{"em":420,"ex":250,"v":0.18},{"em":430,"ex":250,"v":0.17},{"em":440,"ex":250,"v":0.15},{"em":450,"ex":250,"v":0.13},{"em":460,"ex":250,"v":0.11},{"em":470,"ex":250,"v":0.09},{"em":480,"ex":250,"v":0.08},{"em":490,"ex":250,"v":0.07},{"em":500,"ex":250,"v":0.06},{"em":510,"ex":250,"v":0.04},{"em":520,"ex":250,"v":0.02},
{"em":270,"ex":245,"v":0.08},{"em":280,"ex":245,"v":0.18},{"em":290,"ex":245,"v":0.35},{"em":300,"ex":245,"v":0.55},{"em":310,"ex":245,"v":0.72},{"em":320,"ex":245,"v":0.8},{"em":330,"ex":245,"v":0.72},{"em":340,"ex":245,"v":0.6},{"em":350,"ex":245,"v":0.52},{"em":360,"ex":245,"v":0.44},{"em":370,"ex":245,"v":0.36},{"em":380,"ex":245,"v":0.26},{"em":390,"ex":245,"v":0.2},{"em":400,"ex":245,"v":0.18},{"em":410,"ex":245,"v":0.17},{"em":420,"ex":245,"v":0.16},{"em":430,"ex":245,"v":0.14},{"em":440,"ex":245,"v":0.12},{"em":450,"ex":245,"v":0.1},{"em":460,"ex":245,"v":0.09},{"em":470,"ex":245,"v":0.08},{"em":480,"ex":245,"v":0.07},{"em":490,"ex":245,"v":0.07},{"em":500,"ex":245,"v":0.07},{"em":510,"ex":245,"v":0.05},{"em":520,"ex":245,"v":0.02},
{"em":260,"ex":240,"v":0.02},{"em":270,"ex":240,"v":0.08},{"em":280,"ex":240,"v":0.2},{"em":290,"ex":240,"v":0.38},{"em":300,"ex":240,"v":0.55},{"em":310,"ex":240,"v":0.68},{"em":320,"ex":240,"v":0.68},{"em":330,"ex":240,"v":0.58},{"em":340,"ex":240,"v":0.45},{"em":350,"ex":240,"v":0.38},{"em":360,"ex":240,"v":0.33},{"em":370,"ex":240,"v":0.27},{"em":380,"ex":240,"v":0.2},{"em":390,"ex":240,"v":0.16},{"em":400,"ex":240,"v":0.14},{"em":410,"ex":240,"v":0.13},{"em":420,"ex":240,"v":0.11},{"em":430,"ex":240,"v":0.09},{"em":440,"ex":240,"v":0.07},{"em":450,"ex":240,"v":0.06},{"em":460,"ex":240,"v":0.05},{"em":470,"ex":240,"v":0.04},{"em":480,"ex":240,"v":0.04},{"em":490,"ex":240,"v":0.04},{"em":500,"ex":240,"v":0.04},{"em":510,"ex":240,"v":0.03},{"em":520,"ex":240,"v":0.015},
{"em":280,"ex":235,"v":0.07},{"em":290,"ex":235,"v":0.12},{"em":300,"ex":235,"v":0.16},{"em":310,"ex":235,"v":0.2},{"em":320,"ex":235,"v":0.2},{"em":330,"ex":235,"v":0.16},{"em":340,"ex":235,"v":0.12},{"em":350,"ex":235,"v":0.1},{"em":360,"ex":235,"v":0.08},{"em":370,"ex":235,"v":0.07},{"em":380,"ex":235,"v":0.06},{"em":390,"ex":235,"v":0.05},{"em":400,"ex":235,"v":0.04},{"em":410,"ex":235,"v":0.03},{"em":420,"ex":235,"v":0.02},
{"em":570,"ex":265,"v":0.03},{"em":580,"ex":265,"v":0.04},{"em":590,"ex":265,"v":0.04},{"em":600,"ex":265,"v":0.04},{"em":610,"ex":265,"v":0.04},{"em":620,"ex":265,"v":0.04},{"em":630,"ex":265,"v":0.04},{"em":640,"ex":265,"v":0.04},{"em":650,"ex":265,"v":0.04},{"em":660,"ex":265,"v":0.04},{"em":670,"ex":265,"v":0.03},{"em":680,"ex":265,"v":0.03},{"em":690,"ex":265,"v":0.03},{"em":700,"ex":265,"v":0.03},
{"em":570,"ex":260,"v":0.03},{"em":580,"ex":260,"v":0.04},{"em":590,"ex":260,"v":0.04},{"em":600,"ex":260,"v":0.04},{"em":610,"ex":260,"v":0.04},{"em":620,"ex":260,"v":0.04},{"em":630,"ex":260,"v":0.04},{"em":640,"ex":260,"v":0.04},{"em":650,"ex":260,"v":0.04},{"em":660,"ex":260,"v":0.04},{"em":670,"ex":260,"v":0.03},{"em":680,"ex":260,"v":0.03},{"em":690,"ex":260,"v":0.03},{"em":700,"ex":260,"v":0.03},
{"em":650,"ex":245,"v":0.02},{"em":660,"ex":245,"v":0.03},{"em":670,"ex":245,"v":0.03},{"em":680,"ex":245,"v":0.04},{"em":690,"ex":245,"v":0.04},{"em":700,"ex":245,"v":0.04},{"em":650,"ex":240,"v":0.02},{"em":660,"ex":240,"v":0.03},{"em":670,"ex":240,"v":0.03},{"em":680,"ex":240,"v":0.04},{"em":690,"ex":240,"v":0.04},{"em":700,"ex":240,"v":0.04}]
},
"concat":[
{"width":1114,"height":1123,"view":{"fill":"#4B0055"},"title":{"text":"(a)","dx":-37,"offset":32},"data":{"name":"a"},
"encoding":{"x":{"field":"em","type":"quantitative","title":"EM/nm","scale":{"domain":[183.5,200,300,400,500,600,700,711],"range":[0,39,276,504,732,913,1095,1114]},"axis":{"values":[200,300,400,500,600,700],"labelPadding":21,"titlePadding":13,"titleX":563}},"y":{"field":"ex","type":"quantitative","title":"EX/nm","scale":{"domain":[233.4,240,280,320,360,400,405.8],"range":[1123,1080,819,534,276,35,0]},"axis":{"values":[240,280,320,360,400],"labelAngle":-90,"labelPadding":34,"titlePadding":7}},"color":{"field":"v","type":"quantitative","legend":null,"scale":{"domain":[0,0.06,0.125,0.25,0.5,0.72,0.92],"range":["#4B0055","#531A6E","#483C85","#00588B","#009B95","#00D060","#FFE600"]}}},
"layer":[{"mark":{"type":"rect","width":24,"height":33,"clip":true,"xOffset":-9,"yOffset":-12,"opacity":1}},{"mark":{"type":"rect","width":24,"height":33,"clip":true,"xOffset":0,"yOffset":-12,"opacity":0.5}},{"mark":{"type":"rect","width":24,"height":33,"clip":true,"xOffset":9,"yOffset":-12,"opacity":0.333}},{"mark":{"type":"rect","width":24,"height":33,"clip":true,"xOffset":-9,"yOffset":0,"opacity":0.25}},{"mark":{"type":"rect","width":24,"height":33,"clip":true,"xOffset":0,"yOffset":0,"opacity":0.2}},{"mark":{"type":"rect","width":24,"height":33,"clip":true,"xOffset":9,"yOffset":0,"opacity":0.167}},{"mark":{"type":"rect","width":24,"height":33,"clip":true,"xOffset":-9,"yOffset":12,"opacity":0.143}},{"mark":{"type":"rect","width":24,"height":33,"clip":true,"xOffset":0,"yOffset":12,"opacity":0.125}},{"mark":{"type":"rect","width":24,"height":33,"clip":true,"xOffset":9,"yOffset":12,"opacity":0.111}}]},
{"width":1129,"height":1134,"view":{"fill":"#4B0055"},"title":{"text":"(b)","dx":-57,"offset":29},"data":{"name":"b"},
"encoding":{"x":{"field":"em","type":"quantitative","title":"EM/nm","scale":{"domain":[181.5,200,300,400,500,600,700,709],"range":[0,44.5,285,525,744,927,1112,1129]},"axis":{"values":[200,300,400,500,600,700],"labelPadding":18,"titlePadding":12,"titleX":577}},"y":{"field":"ex","type":"quantitative","title":"EX/nm","scale":{"domain":[233,240,280,320,360,400,405.8],"range":[1134,1088,824,532,276,37,0]},"axis":{"values":[240,280,320,360,400],"labelAngle":-90,"labelPadding":34,"titlePadding":7}},"color":{"field":"v","type":"quantitative","legend":null,"scale":{"domain":[0,0.06,0.125,0.25,0.5,0.72,0.92],"range":["#4B0055","#531A6E","#483C85","#00588B","#009B95","#00D060","#FFE600"]}}},
"layer":[{"mark":{"type":"rect","width":24,"height":33,"clip":true,"xOffset":-9,"yOffset":-12,"opacity":1}},{"mark":{"type":"rect","width":24,"height":33,"clip":true,"xOffset":0,"yOffset":-12,"opacity":0.5}},{"mark":{"type":"rect","width":24,"height":33,"clip":true,"xOffset":9,"yOffset":-12,"opacity":0.333}},{"mark":{"type":"rect","width":24,"height":33,"clip":true,"xOffset":-9,"yOffset":0,"opacity":0.25}},{"mark":{"type":"rect","width":24,"height":33,"clip":true,"xOffset":0,"yOffset":0,"opacity":0.2}},{"mark":{"type":"rect","width":24,"height":33,"clip":true,"xOffset":9,"yOffset":0,"opacity":0.167}},{"mark":{"type":"rect","width":24,"height":33,"clip":true,"xOffset":-9,"yOffset":12,"opacity":0.143}},{"mark":{"type":"rect","width":24,"height":33,"clip":true,"xOffset":0,"yOffset":12,"opacity":0.125}},{"mark":{"type":"rect","width":24,"height":33,"clip":true,"xOffset":9,"yOffset":12,"opacity":0.111}}]},
{"width":1131,"height":1131,"view":{"fill":"#4B0055"},"title":{"text":"(c)","dx":-43,"offset":36},"data":{"name":"c"},
"encoding":{"x":{"field":"em","type":"quantitative","title":"EM/nm","scale":{"domain":[181.5,200,300,400,500,600,700,710],"range":[0,44.5,285,529,746,929,1112,1131]},"axis":{"values":[200,300,400,500,600,700],"labelPadding":20,"titlePadding":13,"titleX":582}},"y":{"field":"ex","type":"quantitative","title":"EX/nm","scale":{"domain":[233,240,280,320,360,400,405],"range":[1131,1095,828,542,288,30,0]},"axis":{"values":[240,280,320,360,400],"labelAngle":-90,"labelPadding":34,"titlePadding":7}},"color":{"field":"v","type":"quantitative","legend":null,"scale":{"domain":[0,0.06,0.125,0.25,0.5,0.72,0.92],"range":["#4B0055","#531A6E","#483C85","#00588B","#009B95","#00D060","#FFE600"]}}},
"layer":[{"mark":{"type":"rect","width":24,"height":33,"clip":true,"xOffset":-9,"yOffset":-12,"opacity":1}},{"mark":{"type":"rect","width":24,"height":33,"clip":true,"xOffset":0,"yOffset":-12,"opacity":0.5}},{"mark":{"type":"rect","width":24,"height":33,"clip":true,"xOffset":9,"yOffset":-12,"opacity":0.333}},{"mark":{"type":"rect","width":24,"height":33,"clip":true,"xOffset":-9,"yOffset":0,"opacity":0.25}},{"mark":{"type":"rect","width":24,"height":33,"clip":true,"xOffset":0,"yOffset":0,"opacity":0.2}},{"mark":{"type":"rect","width":24,"height":33,"clip":true,"xOffset":9,"yOffset":0,"opacity":0.167}},{"mark":{"type":"rect","width":24,"height":33,"clip":true,"xOffset":-9,"yOffset":12,"opacity":0.143}},{"mark":{"type":"rect","width":24,"height":33,"clip":true,"xOffset":0,"yOffset":12,"opacity":0.125}},{"mark":{"type":"rect","width":24,"height":33,"clip":true,"xOffset":9,"yOffset":12,"opacity":0.111}}]},
{"width":1131,"height":1132,"view":{"fill":"#4B0055"},"title":{"text":"(d)","dx":-57,"offset":31},"data":{"name":"d"},
"encoding":{"x":{"field":"em","type":"quantitative","title":"EM/nm","scale":{"domain":[183,200,300,400,500,600,700,711],"range":[0,41,281,523,742,925,1110,1131]},"axis":{"values":[200,300,400,500,600,700],"labelPadding":24,"titlePadding":13,"titleX":573}},"y":{"field":"ex","type":"quantitative","title":"EX/nm","scale":{"domain":[233,240,280,320,360,400,405],"range":[1132,1094,827,538,286,31,0]},"axis":{"values":[240,280,320,360,400],"labelAngle":-90,"labelPadding":34,"titlePadding":7}},"color":{"field":"v","type":"quantitative","legend":null,"scale":{"domain":[0,0.06,0.125,0.25,0.5,0.72,0.92],"range":["#4B0055","#531A6E","#483C85","#00588B","#009B95","#00D060","#FFE600"]}}},
"layer":[{"mark":{"type":"rect","width":24,"height":33,"clip":true,"xOffset":-9,"yOffset":-12,"opacity":1}},{"mark":{"type":"rect","width":24,"height":33,"clip":true,"xOffset":0,"yOffset":-12,"opacity":0.5}},{"mark":{"type":"rect","width":24,"height":33,"clip":true,"xOffset":9,"yOffset":-12,"opacity":0.333}},{"mark":{"type":"rect","width":24,"height":33,"clip":true,"xOffset":-9,"yOffset":0,"opacity":0.25}},{"mark":{"type":"rect","width":24,"height":33,"clip":true,"xOffset":0,"yOffset":0,"opacity":0.2}},{"mark":{"type":"rect","width":24,"height":33,"clip":true,"xOffset":9,"yOffset":0,"opacity":0.167}},{"mark":{"type":"rect","width":24,"height":33,"clip":true,"xOffset":-9,"yOffset":12,"opacity":0.143}},{"mark":{"type":"rect","width":24,"height":33,"clip":true,"xOffset":0,"yOffset":12,"opacity":0.125}},{"mark":{"type":"rect","width":24,"height":33,"clip":true,"xOffset":9,"yOffset":12,"opacity":0.111}}]}
]}
